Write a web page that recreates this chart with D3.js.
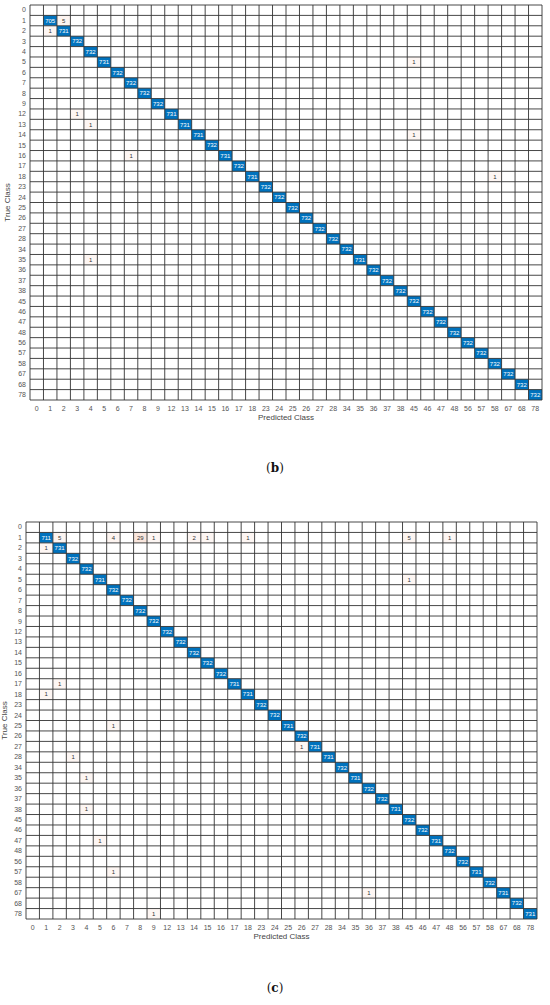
<!DOCTYPE html>
<html>
  <body style="margin:0">
    <style>
      svg { font-family: 'Liberation Sans', Arial, sans-serif; }
    </style>
    <script src="https://d3js.org/d3.v7.min.js"></script>
    <script type="text/javascript">
      const width = 550;
      const height = 1005;
      const classes = ['0', '1', '2', '3', '4', '5', '6', '7', '8', '9', '12', '13', '14', '15', '16', '17', '18',
        '23', '24', '25', '26', '27', '28', '34', '35', '36', '37', '38', '45', '46', '47', '48', '56', '57', '58',
        '67', '68', '78'];
      // diagonal counts per class (0 = empty cell)
      const diagB = [0, 705, 731, 732, 732, 731, 732, 732, 732, 732, 731, 731, 731, 732, 731, 732, 731,
        732, 732, 732, 732, 732, 732, 732, 731, 732, 732, 732, 732, 732, 732, 732, 732, 732, 732,
        732, 732, 732];
      const diagC = [0, 711, 731, 732, 732, 731, 732, 732, 732, 732, 732, 732, 732, 732, 732, 731, 731,
        732, 732, 731, 732, 731, 731, 732, 731, 732, 732, 731, 732, 732, 731, 732, 732, 731, 732,
        731, 732, 731];
      // off-diagonal: [true class, predicted class, count]
      const offB = [
        ['1', '2', 5], ['2', '1', 1], ['5', '45', 1], ['12', '3', 1], ['13', '4', 1],
        ['14', '45', 1], ['16', '7', 1], ['18', '58', 1], ['35', '4', 1]
      ];
      const offC = [
        ['1', '2', 5], ['1', '6', 4], ['1', '8', 29], ['1', '9', 1], ['1', '14', 2], ['1', '15', 1],
        ['1', '18', 1], ['1', '45', 5], ['1', '48', 1], ['2', '1', 1], ['5', '45', 1], ['17', '2', 1],
        ['18', '1', 1], ['25', '6', 1], ['27', '26', 1], ['28', '3', 1], ['35', '4', 1], ['38', '4', 1],
        ['47', '5', 1], ['57', '6', 1], ['67', '36', 1], ['78', '9', 1]
      ];

      const svg = d3.select('body')
        .append('svg')
        .attr('width', width)
        .attr('height', height);

      const blue = '#0072bd';
      const offColor = (v) => d3.interpolateRgb('#ffffff', '#d95319')(0.05 + v / 300);

      function drawMatrix(diag, off, box, letter, captionY) {
        const x = d3.scaleBand().domain(classes).range([box.left, box.right]);
        const y = d3.scaleBand().domain(classes).range([box.top, box.bottom]);
        const g = svg.append('g');

        const cells = [];
        classes.forEach((t) => classes.forEach((p) => cells.push({ t, p })));
        g.selectAll('rect.cell')
          .data(cells)
          .enter()
          .append('rect')
          .attr('x', (d) => x(d.p))
          .attr('y', (d) => y(d.t))
          .attr('width', x.bandwidth())
          .attr('height', y.bandwidth())
          .attr('fill', '#fff');

        const marks = diag.map((v, i) => ({ t: classes[i], p: classes[i], v, diag: true }))
          .filter((d) => d.v > 0)
          .concat(off.map((d) => ({ t: d[0], p: d[1], v: d[2], diag: false })));

        g.selectAll('rect.val')
          .data(marks)
          .enter()
          .append('rect')
          .attr('x', (d) => x(d.p))
          .attr('y', (d) => y(d.t))
          .attr('width', x.bandwidth())
          .attr('height', y.bandwidth())
          .attr('fill', (d) => d.diag ? blue : offColor(d.v));

        // grid
        const edges = d3.range(classes.length + 1);
        g.selectAll('line.v')
          .data(edges)
          .enter()
          .append('line')
          .attr('x1', (i) => box.left + i * x.step())
          .attr('x2', (i) => box.left + i * x.step())
          .attr('y1', box.top)
          .attr('y2', box.bottom)
          .attr('stroke', '#333')
          .attr('stroke-width', 0.9);
        g.selectAll('line.h')
          .data(edges)
          .enter()
          .append('line')
          .attr('y1', (i) => box.top + i * y.step())
          .attr('y2', (i) => box.top + i * y.step())
          .attr('x1', box.left)
          .attr('x2', box.right)
          .attr('stroke', '#333')
          .attr('stroke-width', 0.9);

        g.selectAll('text.val')
          .data(marks)
          .enter()
          .append('text')
          .attr('x', (d) => x(d.p) + x.bandwidth() / 2)
          .attr('y', (d) => y(d.t) + y.bandwidth() / 2)
          .attr('dy', '0.35em')
          .attr('text-anchor', 'middle')
          .attr('font-size', 6)
          .attr('fill', (d) => d.diag ? '#fff' : '#333')
          .text((d) => d.v);

        const axisLeft = d3.axisLeft(y).tickSize(0).tickPadding(4);
        g.append('g')
          .attr('transform', `translate(${box.left}, 0)`)
          .call(axisLeft)
          .call((a) => a.select('.domain').remove())
          .call((a) => a.selectAll('text').attr('font-size', 7).attr('fill', '#555'));
        const axisBottom = d3.axisBottom(x).tickSize(0).tickPadding(6);
        g.append('g')
          .attr('transform', `translate(0, ${box.bottom})`)
          .call(axisBottom)
          .call((a) => a.select('.domain').remove())
          .call((a) => a.selectAll('text').attr('font-size', 7).attr('fill', '#555'));

        g.append('text')
          .attr('transform', `translate(${box.labelX}, ${(box.top + box.bottom) / 2}) rotate(-90)`)
          .attr('text-anchor', 'middle')
          .attr('font-size', 8)
          .attr('fill', '#444')
          .text('True Class');
        g.append('text')
          .attr('x', (box.left + box.right) / 2)
          .attr('y', box.bottom + 20)
          .attr('text-anchor', 'middle')
          .attr('font-size', 8)
          .attr('fill', '#444')
          .text('Predicted Class');

        const cap = svg.append('text')
          .attr('x', width / 2)
          .attr('y', captionY)
          .attr('text-anchor', 'middle')
          .attr('font-family', "'DejaVu Serif', 'Liberation Serif', serif")
          .attr('font-size', 12)
          .attr('fill', '#111');
        cap.append('tspan').text('(');
        cap.append('tspan').attr('font-weight', 'bold').text(letter);
        cap.append('tspan').text(')');
      }

      drawMatrix(diagB, offB, { left: 30, right: 542, top: 5, bottom: 400, labelX: 10 }, 'b', 472);
      drawMatrix(diagC, offC, { left: 26, right: 537, top: 522, bottom: 919, labelX: 7 }, 'c', 992);
    </script>
  </body>
</html>
